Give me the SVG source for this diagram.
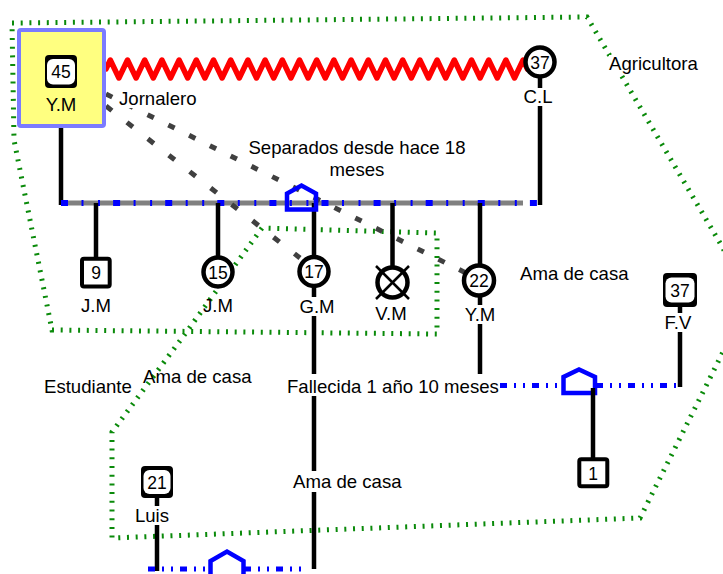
<svg xmlns="http://www.w3.org/2000/svg" width="723" height="574" viewBox="0 0 723 574">
<defs>
<style>
text{font-family:"Liberation Sans",Arial,sans-serif;font-size:18.6px;fill:#000}
.num{font-size:17.5px;text-anchor:middle}
.c{text-anchor:middle}
.bg{fill:#fff}
.ln{stroke:#000;stroke-width:4.5;fill:none}
.house{stroke:#0000ff;stroke-width:4.5;stroke-linejoin:miter}
.circ{fill:#fff;stroke:#000;stroke-width:4.5}
.sq{fill:#fff;stroke:#000;stroke-width:4}
.bd{stroke:#0000ff;stroke-width:5;fill:none;stroke-dasharray:7 7 2 7 2 7}
.dash{stroke:#404040;stroke-width:5;fill:none}
.hh{fill:none;stroke:#0a8a0a;stroke-width:5;stroke-dasharray:2 6.7}
</style>
</defs>
<rect width="723" height="574" fill="#fff"/>
<g id="household">
<path class="hh" d="M12,23 L587,17 L723,248 L745,300 L723,352 L640,518 L112,538 L112,432 L185,334 L262,228 L437,233 L437,334 L52,330 L14,140 Z"/>
</g>
<g id="connectors">
<path d="M106,69 l4.3,-9
l8.6,18 l8.6,-18 l8.6,18 l8.6,-18 l8.6,18 l8.6,-18 l8.6,18 l8.6,-18 l8.6,18 l8.6,-18 l8.6,18 l8.6,-18
l8.6,18 l8.6,-18 l8.6,18 l8.6,-18 l8.6,18 l8.6,-18 l8.6,18 l8.6,-18 l8.6,18 l8.6,-18 l8.6,18 l8.6,-18
l8.6,18 l8.6,-18 l8.6,18 l8.6,-18 l8.6,18 l8.6,-18 l8.6,18 l8.6,-18 l8.6,18 l8.6,-18 l8.6,18 l8.6,-18
l8.6,18 l8.6,-18 l8.6,18 l8.6,-18 l8.6,18 l8.6,-18 l8.6,18 l8.6,-18 l8.6,18 l8.6,-18 l8.6,18 l8.6,-18
l4.3,9" fill="none" stroke="#ff0000" stroke-width="5.5" stroke-linejoin="round" stroke-linecap="round"/>
<line class="ln" x1="61" y1="126" x2="61" y2="205"/>
<line class="ln" x1="540" y1="70" x2="540" y2="205"/>
<line x1="61" y1="203" x2="523" y2="203" stroke="#808080" stroke-width="5"/>
<line x1="61" y1="203" x2="538" y2="203" stroke="#0000ff" stroke-width="6" stroke-dasharray="7 13.5 2 14.5 2 13.1"/>
<line class="ln" x1="96" y1="203" x2="96" y2="260"/>
<line class="ln" x1="218" y1="203" x2="218" y2="260"/>
<line class="ln" x1="314" y1="203" x2="314" y2="569"/>
<line class="ln" x1="392.5" y1="203" x2="392.5" y2="268"/>
<line class="ln" x1="480" y1="203" x2="480" y2="386"/>
<line class="dash" x1="106" y1="94" x2="466" y2="273" stroke-dasharray="7 16.2"/>
<line class="dash" x1="106" y1="106" x2="300" y2="258" stroke-dasharray="7.5 19.1"/>
<path class="house" fill="none" d="M287,209.5 L287,193.5 L301.5,185.5 L316,193.5 L316,209.5 Z"/>
<line class="bd" x1="500" y1="385.5" x2="680" y2="385.5"/>
<line class="ln" x1="680" y1="305" x2="680" y2="387"/>
<path class="house" fill="#fff" d="M563.5,393 L563.5,377 L579,369.5 L595,377 L595,393 Z"/>
<line class="ln" x1="593" y1="388" x2="593" y2="460"/>
<line class="ln" x1="157" y1="496" x2="157" y2="571"/>
<line class="bd" x1="148" y1="569" x2="302" y2="569"/>
<path class="house" fill="#fff" d="M210.5,578 L210.5,561 L227,551.5 L243.5,561 L243.5,578 Z"/>
</g>
<g id="labels">
<rect class="bg" x="609" y="55" width="92" height="19"/>
<text x="609" y="70">Agricultora</text>
<rect class="bg" x="117" y="89" width="80" height="19"/>
<text x="119" y="105">Jornalero</text>
<text class="c" x="357" y="154">Separados desde hace 18</text>
<text class="c" x="357" y="176">meses</text>
<text x="520" y="279.5">Ama de casa</text>
<text x="44" y="392.7">Estudiante</text>
<text x="143" y="383.3">Ama de casa</text>
<rect class="bg" x="284" y="374" width="215" height="22"/>
<text x="287" y="392.7">Fallecida 1 año 10 meses</text>
<rect class="bg" x="291" y="471" width="115" height="21"/>
<text x="293" y="488.3">Ama de casa</text>
</g>
<g id="node-ym45">
<rect x="19" y="30" width="85" height="96" rx="2" fill="#ffff80" stroke="#7b7bff" stroke-width="4"/>
<rect x="45" y="55" width="32" height="33" rx="4" fill="#000"/>
<rect x="47" y="59" width="28" height="25.5" rx="6" fill="#fff"/>
<text class="num" x="61" y="78">45</text>
<text class="c" x="61" y="111">Y.M</text>
</g>
<g id="node-cl">
<circle class="circ" cx="540" cy="62" r="14.5"/>
<text class="num" x="540" y="68.5">37</text>
<rect class="bg" x="522" y="88" width="33" height="18"/>
<text class="c" x="538" y="103">C.L</text>
</g>
<g id="node-jm9">
<rect class="sq" x="82" y="258.7" width="27.7" height="27.7" rx="2"/>
<text class="num" x="96" y="279">9</text>
<text class="c" x="96" y="312">J.M</text>
</g>
<g id="node-jm15">
<circle class="circ" cx="218" cy="272" r="14.5"/>
<text class="num" x="218" y="278.5">15</text>
<text class="c" x="218" y="311.5">J.M</text>
</g>
<g id="node-gm17">
<circle class="circ" cx="314" cy="271.5" r="14.5"/>
<text class="num" x="314" y="278">17</text>
<rect class="bg" x="299" y="297" width="36" height="19"/>
<text class="c" x="317" y="312.5">G.M</text>
</g>
<g id="node-vm">
<circle class="circ" cx="392.5" cy="282.5" r="15"/>
<line x1="376" y1="266" x2="409" y2="299" stroke="#000" stroke-width="2.5"/>
<line x1="409" y1="266" x2="376" y2="299" stroke="#000" stroke-width="2.5"/>
<rect class="bg" x="372" y="305" width="38" height="19"/>
<text class="c" x="391" y="320">V.M</text>
</g>
<g id="node-ym22">
<circle class="circ" cx="479" cy="280.5" r="15"/>
<text class="num" x="479" y="287">22</text>
<rect class="bg" x="461" y="305" width="38" height="19"/>
<text class="c" x="480" y="320.5">Y.M</text>
</g>
<g id="node-fv">
<rect x="663" y="273" width="34" height="34" rx="4" fill="#000"/>
<rect x="665.5" y="277.5" width="29" height="25" rx="6" fill="#fff"/>
<text class="num" x="680" y="296.5">37</text>
<rect class="bg" x="661" y="313" width="34" height="19"/>
<text class="c" x="678" y="328.5">F.V</text>
</g>
<g id="node-1">
<rect class="sq" x="579.3" y="459.3" width="28" height="27" rx="2"/>
<text class="num" x="593" y="479.5">1</text>
</g>
<g id="node-luis">
<rect x="141" y="466" width="32" height="32" rx="4" fill="#000"/>
<rect x="143.5" y="470" width="27" height="24" rx="6" fill="#fff"/>
<text class="num" x="157" y="488.5">21</text>
<rect class="bg" x="133" y="506" width="37" height="19"/>
<text class="c" x="152" y="521.5">Luis</text>
</g>
</svg>
